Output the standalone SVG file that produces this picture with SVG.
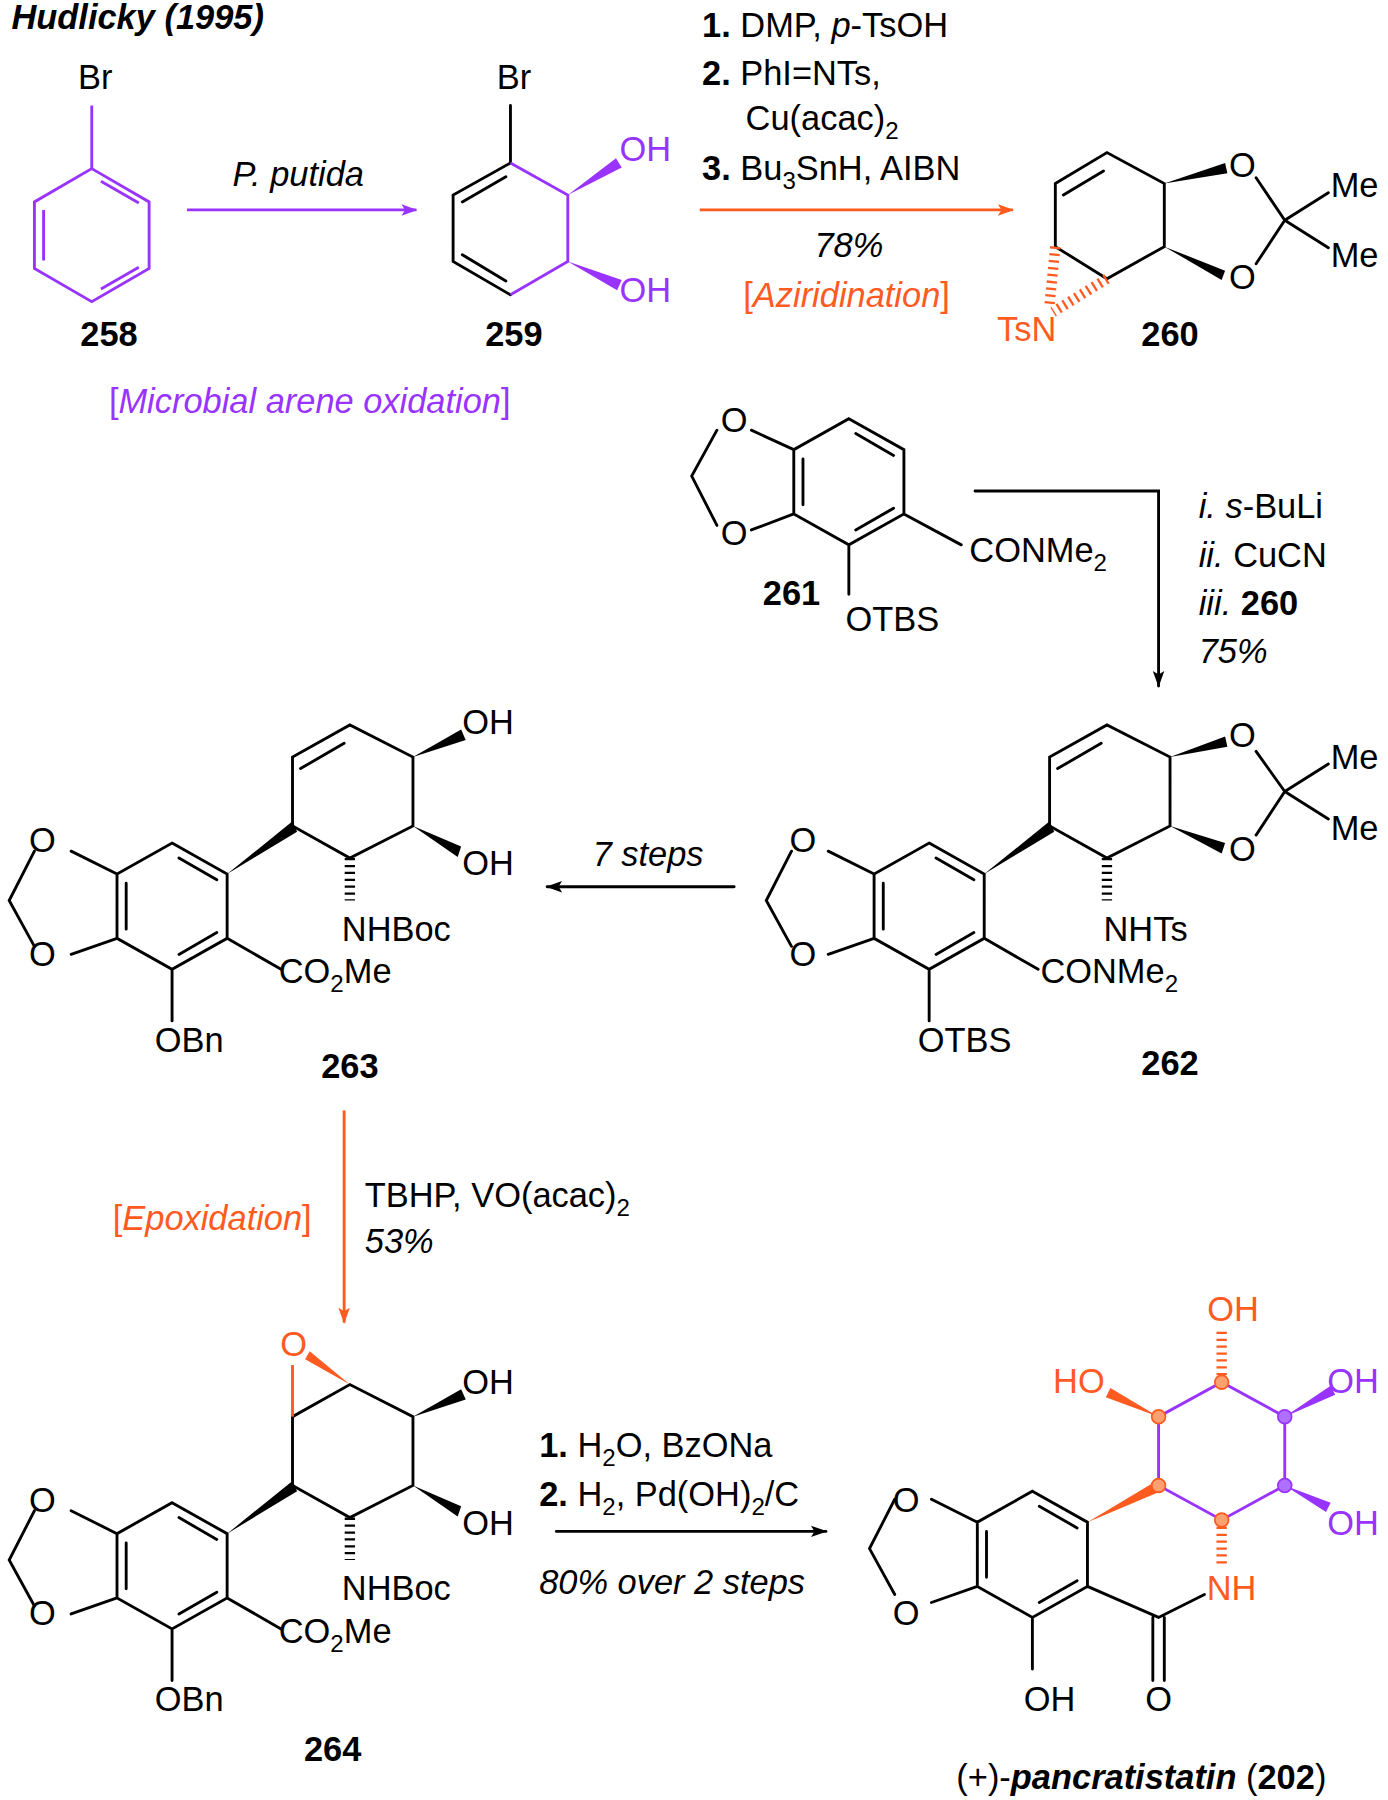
<svg xmlns="http://www.w3.org/2000/svg" width="1388" height="1800" viewBox="0 0 1388 1800">
<defs>
<style>
text{font-family:"Liberation Sans",Arial,sans-serif;font-size:30px;fill:#000}
.b{font-weight:bold}.i{font-style:italic}.p{fill:#9933ff}.o{fill:#ff5a1f}
.bd{stroke:#000;stroke-width:2.5;fill:none;stroke-linecap:round}
.pb{stroke:#9933ff;stroke-width:2.5;fill:none}
.ob{stroke:#ff5a1f;stroke-width:2.5;fill:none}
.hs{stroke:#000;stroke-width:9;stroke-dasharray:2 4;fill:none}
.hso{stroke:#ff5a1f;stroke-width:9;stroke-dasharray:2 4;fill:none}
</style>
<marker id="ap" markerWidth="14" markerHeight="12" refX="13" refY="6" orient="auto" markerUnits="userSpaceOnUse"><path d="M0,1 L14,6 L0,11 L3,6z" fill="#9933ff"/></marker>
<marker id="ao" markerWidth="14" markerHeight="12" refX="13" refY="6" orient="auto" markerUnits="userSpaceOnUse"><path d="M0,1 L14,6 L0,11 L3,6z" fill="#ff5a1f"/></marker>
<marker id="ab" markerWidth="14" markerHeight="12" refX="13" refY="6" orient="auto" markerUnits="userSpaceOnUse"><path d="M0,1 L14,6 L0,11 L3,6z" fill="#000"/></marker>
</defs>
<g transform="scale(1.1471)">
<text x="10" y="25" class="b i">Hudlicky (1995)</text>

<g id="n258">
<polygon class="pb" points="80,147 130,176 130,234 80,263 30,234 30,176"/>
<path class="pb" d="M80,147V92 M38,183V227 M88,158L121,177 M121,233L88,252"/>
<text x="68" y="78">Br</text>
<text x="95" y="302" class="b" text-anchor="middle">258</text>
</g>
<text x="270" y="360" class="p i" text-anchor="middle"><tspan font-style="normal">[</tspan>Microbial arene oxidation<tspan font-style="normal">]</tspan></text>

<g id="n259">
<path class="bd" d="M445,142L395,170L395,228L445,257 M445,142V92 M403,176L441,154 M403,222L441,245"/>
<path class="pb" d="M445,142L495,170L495,228L445,257"/>
<polygon fill="#9933ff" points="495,170 542,146 537,138"/>
<polygon fill="#9933ff" points="495,228 542,244 538,253"/>
<text x="433" y="78">Br</text>
<text x="540" y="140" class="p">OH</text>
<text x="540" y="263" class="p">OH</text>
<text x="448" y="302" class="b" text-anchor="middle">259</text>
</g>

<g id="n260">
<path class="bd" d="M920,160L965,133L1015,160L1015,215L965,243L920,215Z M927,170L962,149 M1095,155L1120,192L1095,230 M1120,192L1158,168 M1120,192L1158,216"/>
<polygon points="1015,160 1068,142 1070,151"/>
<polygon points="1015,215 1068,236 1065,244"/>
<path class="hso" d="M965,243L918,272 M920,215L915,265"/>
<text x="1083" y="154" text-anchor="middle">O</text>
<text x="1083" y="252" text-anchor="middle">O</text>
<text x="1160" y="172">Me</text>
<text x="1160" y="233">Me</text>
<text x="895" y="297" class="o" text-anchor="middle">TsN</text>
<text x="1020" y="302" class="b" text-anchor="middle">260</text>
</g>

<g id="n261">
<path class="bd" d="M740,365L788,392L788,448L740,475L692,448L692,392Z M746,378L779,397 M779,443L746,462 M700,400V440 M692,392L655,375 M692,448L655,462 M625,375L603,415L625,458 M740,475V518 M788,448L838,475"/>
<text x="640" y="377" text-anchor="middle">O</text>
<text x="640" y="475" text-anchor="middle">O</text>
<text x="845" y="490">CONMe<tspan font-size="21" dy="8">2</tspan></text>
<text x="737" y="550">OTBS</text>
<text x="690" y="527" class="b" text-anchor="middle">261</text>
</g>

<g id="n262">
<path class="bd" d="M810,735L858,762L858,818L810,845L762,818L762,762Z M816,748L849,767 M849,813L816,832 M770,770V810 M762,762L722,742 M762,818L722,832 M690,742L668,785L690,825 M810,845V890 M858,818L905,845 M915,720L915,660L965,632L1020,660L1020,720L965,748Z M922,670L960,648 M1095,655L1120,690L1095,728 M1120,690L1158,666 M1120,690L1158,714"/>
<polygon points="858,762 915,716 919,725"/>
<polygon points="1020,660 1068,642 1070,651"/>
<polygon points="1020,720 1068,735 1065,744"/>
<path class="hs" d="M965,748V785"/>
<text x="700" y="743" text-anchor="middle">O</text>
<text x="700" y="842" text-anchor="middle">O</text>
<text x="1083" y="651" text-anchor="middle">O</text>
<text x="1083" y="751" text-anchor="middle">O</text>
<text x="1160" y="670">Me</text>
<text x="1160" y="732">Me</text>
<text x="962" y="820">NHTs</text>
<text x="907" y="857">CONMe<tspan font-size="21" dy="8">2</tspan></text>
<text x="800" y="917">OTBS</text>
<text x="1020" y="937" class="b" text-anchor="middle">262</text>
</g>

<g id="n263">
<path class="bd" d="M150,735L198,762L198,818L150,845L102,818L102,762Z M156,748L189,767 M189,813L156,832 M110,770V810 M102,762L62,742 M102,818L62,832 M30,742L8,785L30,825 M150,845V890 M198,818L245,845 M255,720L255,660L305,632L360,660L360,720L305,748Z M262,670L300,648"/>
<polygon points="198,762 255,716 259,725"/>
<polygon points="360,660 402,636 406,645"/>
<polygon points="360,720 402,738 399,747"/>
<path class="hs" d="M305,748V785"/>
<text x="37" y="743" text-anchor="middle">O</text>
<text x="37" y="842" text-anchor="middle">O</text>
<text x="403" y="640">OH</text>
<text x="403" y="763">OH</text>
<text x="298" y="820">NHBoc</text>
<text x="243" y="857">CO<tspan font-size="21" dy="8">2</tspan><tspan dy="-8">Me</tspan></text>
<text x="135" y="917">OBn</text>
<text x="305" y="940" class="b" text-anchor="middle">263</text>
</g>

<g id="n264">
<path class="bd" d="M150,1310L198,1337L198,1393L150,1420L102,1393L102,1337Z M156,1323L189,1342 M189,1388L156,1407 M110,1345V1385 M102,1337L62,1317 M102,1393L62,1407 M30,1317L8,1360L30,1400 M150,1420V1465 M198,1393L245,1420 M255,1295L255,1235L305,1207L360,1235L360,1295L305,1323Z"/>
<path class="ob" d="M255,1235L255,1190"/>
<polygon fill="#ff5a1f" points="305,1207 266,1185 270,1178"/>
<polygon points="198,1337 255,1291 259,1300"/>
<polygon points="360,1235 402,1211 406,1220"/>
<polygon points="360,1295 402,1313 399,1322"/>
<path class="hs" d="M305,1323V1360"/>
<text x="256" y="1182" class="o" text-anchor="middle">O</text>
<text x="37" y="1318" text-anchor="middle">O</text>
<text x="37" y="1417" text-anchor="middle">O</text>
<text x="403" y="1215">OH</text>
<text x="403" y="1338">OH</text>
<text x="298" y="1395">NHBoc</text>
<text x="243" y="1432">CO<tspan font-size="21" dy="8">2</tspan><tspan dy="-8">Me</tspan></text>
<text x="135" y="1492">OBn</text>
<text x="290" y="1535" class="b" text-anchor="middle">264</text>
</g>

<g id="n202">
<path class="bd" d="M900,1300L948,1327L948,1383L900,1410L852,1383L852,1327Z M906,1313L939,1332 M939,1378L906,1397 M860,1335V1375 M852,1327L812,1307 M852,1383L812,1397 M780,1307L758,1350L780,1390 M900,1410V1455 M948,1383L1010,1410L1050,1390 M1005,1410V1465 M1015,1410V1465"/>
<path class="pb" d="M1010,1295L1010,1235L1065,1205L1120,1235L1120,1295L1065,1325Z"/>
<polygon fill="#ff5a1f" points="948,1327 1008,1291 1012,1300"/>
<polygon fill="#ff5a1f" points="1010,1235 968,1210 964,1218"/>
<path class="hso" d="M1065,1205V1160"/>
<polygon fill="#9933ff" points="1120,1235 1160,1208 1164,1216"/>
<polygon fill="#9933ff" points="1120,1295 1160,1310 1156,1318"/>
<path class="hso" d="M1065,1325V1365"/>
<g fill="#ffa070" stroke="#ff5a1f" stroke-width="1.5">
<circle cx="1010" cy="1295" r="6"/><circle cx="1010" cy="1235" r="6"/><circle cx="1065" cy="1205" r="6"/><circle cx="1065" cy="1325" r="6"/></g>
<g fill="#b070ff" stroke="#9933ff" stroke-width="1.5"><circle cx="1120" cy="1235" r="6"/><circle cx="1120" cy="1295" r="6"/></g>
<text x="790" y="1318" text-anchor="middle">O</text>
<text x="790" y="1417" text-anchor="middle">O</text>
<text x="1075" y="1152" class="o" text-anchor="middle">OH</text>
<text x="918" y="1214" class="o">HO</text>
<text x="1157" y="1214" class="p">OH</text>
<text x="1157" y="1338" class="p">OH</text>
<text x="1052" y="1395" class="o">NH</text>
<text x="1010" y="1492" text-anchor="middle">O</text>
<text x="915" y="1492" text-anchor="middle">OH</text>
<text x="995" y="1560" text-anchor="middle">(+)-<tspan class="b i">pancratistatin</tspan> (<tspan class="b">202</tspan>)</text>
</g>

<g id="connectors">
<path d="M163,183H363" class="pb" marker-end="url(#ap)"/>
<path d="M610,183H883" class="ob" marker-end="url(#ao)"/>
<path d="M850,428H1010V598" class="bd" marker-end="url(#ab)"/>
<path d="M640,773H477" class="bd" marker-end="url(#ab)"/>
<path d="M300,968V1153" class="ob" marker-end="url(#ao)"/>
<path d="M485,1335H720" class="bd" marker-end="url(#ab)"/>
</g>
<text x="260" y="162" class="i" text-anchor="middle">P.  putida</text>
<text x="612" y="32"><tspan class="b">1.</tspan> DMP, <tspan class="i">p</tspan>-TsOH</text>
<text x="612" y="74"><tspan class="b">2.</tspan> PhI=NTs,</text>
<text x="650" y="113">Cu(acac)<tspan font-size="21" dy="8">2</tspan></text>
<text x="612" y="157"><tspan class="b">3.</tspan> Bu<tspan font-size="21" dy="8">3</tspan><tspan dy="-8">SnH, AIBN</tspan></text>
<text x="740" y="224" class="i" text-anchor="middle">78%</text>
<text x="738" y="268" class="o" text-anchor="middle">[<tspan class="i">Aziridination</tspan>]</text>
<text x="1045" y="452"><tspan class="i">i. s</tspan>-BuLi</text>
<text x="1045" y="494"><tspan class="i">ii.</tspan> CuCN</text>
<text x="1045" y="536"><tspan class="i">iii.</tspan> <tspan class="b">260</tspan></text>
<text x="1045" y="578" class="i">75%</text>
<text x="565" y="755" class="i" text-anchor="middle">7 steps</text>
<text x="185" y="1072" class="o" text-anchor="middle">[<tspan class="i">Epoxidation</tspan>]</text>
<text x="318" y="1052">TBHP,  VO(acac)<tspan font-size="21" dy="8">2</tspan></text>
<text x="318" y="1092" class="i">53%</text>
<text x="470" y="1270"><tspan class="b">1.</tspan> H<tspan font-size="21" dy="8">2</tspan><tspan dy="-8">O, BzONa</tspan></text>
<text x="470" y="1313"><tspan class="b">2.</tspan> H<tspan font-size="21" dy="8">2</tspan><tspan dy="-8">, Pd(OH)</tspan><tspan font-size="21" dy="8">2</tspan><tspan dy="-8">/C</tspan></text>
<text x="470" y="1390" class="i">80% over 2 steps</text>
</g>
</svg>
